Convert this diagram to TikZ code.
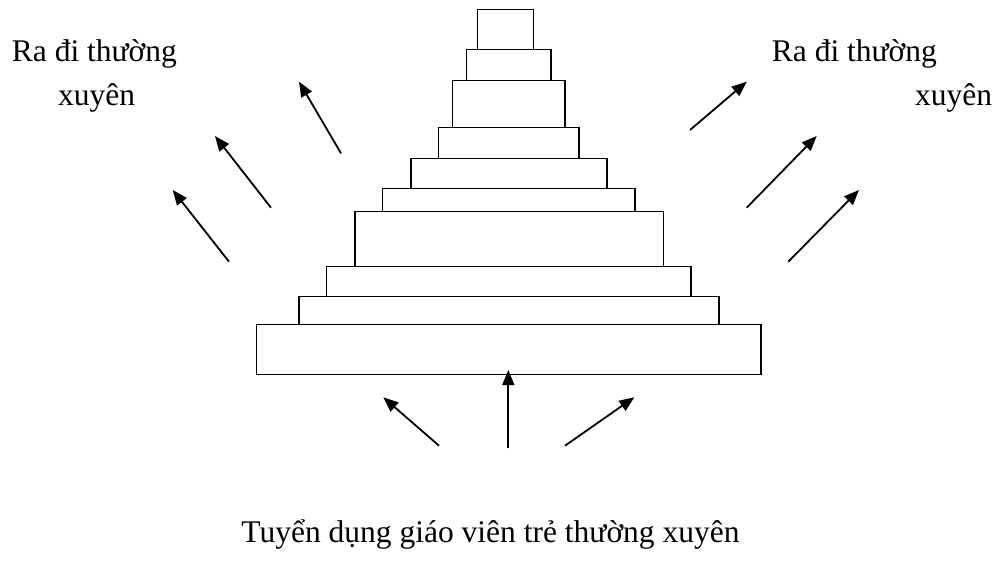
\documentclass[tikz,border=0pt]{standalone}
\usepackage{fontspec}
\setmainfont{Liberation Serif}
\usetikzlibrary{arrows.meta,fit}
\begin{document}
\begin{tikzpicture}[x=1pt,y=-1pt,
  tier/.style={draw, line width=1.4pt, inner sep=0pt, outer sep=0pt},
  flow/.style={line width=1.8pt, -{Triangle[length=15pt,width=12pt]}},
  label/.style={inner sep=0pt, anchor=base west, font=\fontsize{31.5}{38}\selectfont}]
\useasboundingbox (0,0) rectangle (1003,560);

% stacked tiers of the pyramid, top to bottom
\node[tier, fit={(477.3,9.7) (533.7,49.7)}] (t1) {};
\node[tier, fit={(466.7,49.7) (551,80.7)}] (t2) {};
\node[tier, fit={(452.7,80.7) (565,127.7)}] (t3) {};
\node[tier, fit={(438.7,127.7) (579,158.3)}] (t4) {};
\node[tier, fit={(411,158.3) (607,188.3)}] (t5) {};
\node[tier, fit={(382.7,188.3) (635,211.7)}] (t6) {};
\node[tier, fit={(355,211.7) (663.3,266.7)}] (t7) {};
\node[tier, fit={(326.7,266.7) (691,296.7)}] (t8) {};
\node[tier, fit={(299,296.7) (719,324.3)}] (t9) {};
\node[tier, fit={(256.7,324.3) (761,374.7)}] (t10) {};

% labels
\node[label] (lt1) at (11.7,61.7) {Ra đi thường};
\node[label] (lt2) at (58,105) {xuyên};
\node[label] (rt1) at (771.7,61.7) {Ra đi thường};
\node[label] (rt2) at (915,105) {xuyên};
\node[label, anchor=base] (bt) at (490.5,542) {Tuyển dụng giáo viên trẻ thường xuyên};

% leaving arrows, left side
\coordinate (la1s) at (341,153.3);   \coordinate (la1e) at (299,81.7);
\coordinate (la2s) at (271,207.7);   \coordinate (la2e) at (215,136);
\coordinate (la3s) at (229,261.7);   \coordinate (la3e) at (172.7,190);
% leaving arrows, right side
\coordinate (ra1s) at (690,130);     \coordinate (ra1e) at (746.7,81.7);
\coordinate (ra2s) at (746.7,207.7); \coordinate (ra2e) at (816.7,136);
\coordinate (ra3s) at (788.3,261.7); \coordinate (ra3e) at (859,190);
% incoming arrows, bottom
\coordinate (ba1s) at (439,445.7);   \coordinate (ba1e) at (383.3,397.3);
\coordinate (ba2s) at (508.3,448.3); \coordinate (ba2e) at (508.3,370);
\coordinate (ba3s) at (565,445.7);   \coordinate (ba3e) at (634.3,397.3);

\draw[flow] (la1s) -- (la1e);
\draw[flow] (la2s) -- (la2e);
\draw[flow] (la3s) -- (la3e);
\draw[flow] (ra1s) -- (ra1e);
\draw[flow] (ra2s) -- (ra2e);
\draw[flow] (ra3s) -- (ra3e);
\draw[flow] (ba1s) -- (ba1e);
\draw[flow] (ba2s) -- (ba2e);
\draw[flow] (ba3s) -- (ba3e);
\end{tikzpicture}
\end{document}
